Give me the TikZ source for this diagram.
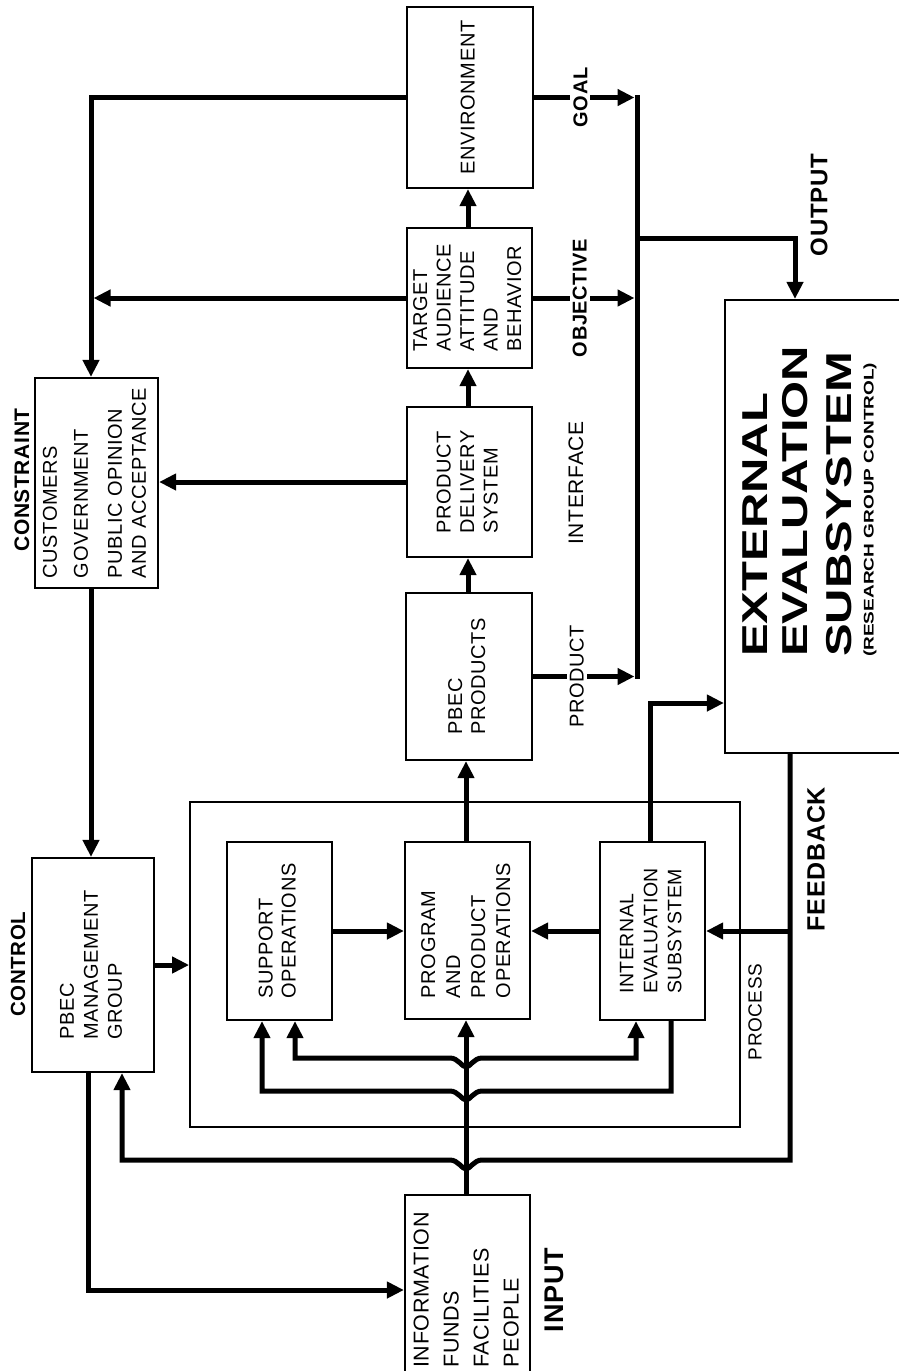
\documentclass[tikz,border=0pt]{standalone}
\usepackage{fontspec}
\usepackage{graphicx}
\setmainfont{Liberation Sans}[LetterSpace=3.0]
\newfontfamily\titlefont{Liberation Sans}[LetterSpace=0.0]
\usetikzlibrary{arrows.meta,calc}

% vertical (rotated) multi-line text: size, line skip, rows
\newcommand{\vtext}[3]{\rotatebox{90}{\fontsize{#1}{#2}\selectfont\renewcommand{\arraystretch}{1}\begin{tabular}{@{}l@{}}#3\end{tabular}}}

\tikzset{
  box/.style={draw, line width=2.2pt, inner sep=0pt, align=center},
  wire/.style={line width=5pt, -{Triangle[length=17pt,width=16pt]}},
  bus/.style={line width=5pt, line cap=rect},
  lab/.style={rotate=90, fill=white, inner sep=3pt},
  tag/.style={rotate=90, inner sep=1pt},
  boldf/.style={font=\fontsize{#1}{#1}\bfseries\selectfont},
  regf/.style={font=\fontsize{#1}{#1}\selectfont},
}

\begin{document}
\begin{tikzpicture}[x=1pt,y=-1pt]
\useasboundingbox (0,0) rectangle (898,1371);
\fill[white] (0,0) rectangle (898,1371);

% ---- boxes ----
\node[box, line width=1.8pt, minimum width=550pt, minimum height=325pt] (process) at (465,964.5) {};
\node[box, minimum width=126pt, minimum height=181pt] (env) at (470,97.5) {\vtext{20}{23.5}{ENVIRONMENT}};
\node[box, minimum width=125pt, minimum height=140pt] (target) at (469.5,298) {\vtext{20}{23.5}{TARGET\\AUDIENCE\\ATTITUDE\\AND\\BEHAVIOR}};
\node[box, minimum width=125pt, minimum height=150pt] (delivery) at (469.5,482) {\vtext{20}{23.5}{PRODUCT\\DELIVERY\\SYSTEM}};
\node[box, minimum width=126pt, minimum height=167pt] (products) at (469,676.5) {\vtext{20}{23}{PBEC\\PRODUCTS}};
\node[box, minimum width=125pt, minimum height=177pt] (program) at (467.5,930.5) {\vtext{20}{25}{PROGRAM\\AND\\PRODUCT\\OPERATIONS}};
\node[box, minimum width=105pt, minimum height=178pt] (support) at (279.5,931) {\vtext{20}{23}{SUPPORT\\OPERATIONS}};
\node[box, minimum width=105pt, minimum height=178pt] (internal) at (652.5,931) {\vtext{19.5}{24}{INTERNAL\\EVALUATION\\SUBSYSTEM}};
\node[box, minimum width=122pt, minimum height=214pt] (mgmt) at (93,965) {\vtext{20}{24}{PBEC\\MANAGEMENT\\GROUP}};
\node[box, minimum width=123pt, minimum height=210pt] (constraint) at (96.5,483) {\vtext{20}{24}{CUSTOMERS\\[7pt]GOVERNMENT\\[10pt]PUBLIC OPINION\\AND ACCEPTANCE}};
\node[box, minimum width=125pt, minimum height=190pt] (input) at (467.5,1290) {\vtext{21.5}{30}{INFORMATION\\FUNDS\\FACILITIES\\PEOPLE}};
\node[box, minimum width=235pt, minimum height=453pt] (ext) at (842.5,526.5) {};
\node[anchor=south, inner sep=0pt] (exttitle) at (812.5,657) {\rotatebox{90}{\scalebox{1.36}[1]{\titlefont\fontsize{36}{40}\bfseries\selectfont\begin{tabular}{@{}l@{}}EXTERNAL\\EVALUATION\\[4pt]SUBSYSTEM\\[-18pt]{\fontsize{14}{15}\selectfont(RESEARCH GROUP CONTROL)}\end{tabular}}}};

% ---- free labels ----
\node[tag, boldf=21] (lconstraint) at (22,480) {CONSTRAINT};
\node[tag, boldf=20.5] (lcontrol) at (18,964) {CONTROL};
\node[tag, regf=21] (linterface) at (576,483) {INTERFACE};
\node[tag, boldf=24] (loutput) at (819,205) {OUTPUT};
\node[tag, boldf=25] (lfeedback) at (816,859) {FEEDBACK};
\node[tag, regf=19] (lprocess) at (755,1012) {PROCESS};
\node[tag, boldf=27] (linput) at (554,1290) {INPUT};

% ---- routing points ----
\coordinate (lbus) at (91,0);
\coordinate (ml) at (88,0);
\coordinate (mx) at (122,0);
\coordinate (spine) at (466,0);
\coordinate (uspine) at (468,0);
\coordinate (rbus) at (637,0);
\coordinate (ox) at (795,0);
\coordinate (oj) at (637,238);
\coordinate (fb) at (790,0);
\coordinate (fbot) at (0,1160);
\coordinate (iv) at (650,0);
\coordinate (ein) at (0,703);
\coordinate (ua) at (636,0);
\coordinate (sa) at (295,0);
\coordinate (lb) at (671,0);
\coordinate (sb) at (262,0);
\coordinate (uline) at (0,1058);
\coordinate (lline) at (0,1091);

% ---- constraint / control loop ----
\draw[wire] (env.west) -- (env.west -| lbus) -- (lbus |- constraint.north);
\draw[wire, shorten >=2.5pt] (target.west) -- (target.west -| lbus);
\draw[wire] (delivery.west) -- (delivery.west -| constraint.east);
\draw[wire] (lbus |- constraint.south) -- (lbus |- mgmt.north);
\draw[wire] (mgmt.east) -- (mgmt.east -| process.west);
\draw[wire] (ml |- mgmt.south) -- (ml |- input.west) -- (input.west);

% ---- main chain ----
\draw[wire] (spine |- input.north) -- (spine |- program.south);
\draw[wire] (spine |- program.north) -- (spine |- products.south);
\draw[wire] (uspine |- products.north) -- (uspine |- delivery.south);
\draw[wire] (uspine |- delivery.north) -- (uspine |- target.south);
\draw[wire] (uspine |- target.north) -- (uspine |- env.south);

% ---- process internals ----
\draw[wire] (support.east) -- (support.east -| program.west);
\draw[wire] (internal.west) -- (internal.west -| program.east);
\draw[wire, {Triangle[length=17pt,width=16pt]}-{Triangle[length=17pt,width=16pt]}]
  (ua |- internal.south) -- (ua |- uline)
  -- ($(spine |- uline)+(16,0)$) .. controls +(-8,0) and +(4,0) .. ($(spine |- uline)+(0,9)$)
  .. controls +(-4,0) and +(8,0) .. ($(spine |- uline)+(-16,0)$)
  -- (sa |- uline) -- (sa |- support.south);
\draw[wire] (lb |- internal.south) -- (lb |- lline)
  -- ($(spine |- lline)+(16,0)$) .. controls +(-8,0) and +(4,0) .. ($(spine |- lline)+(0,9)$)
  .. controls +(-4,0) and +(8,0) .. ($(spine |- lline)+(-16,0)$)
  -- (sb |- lline) -- (sb |- support.south);

% ---- outputs ----
\draw[wire, shorten >=2.5pt] (env.east) -- node[lab, boldf=20, pos=0.45] (lgoal) {GOAL} (env.east -| rbus);
\draw[wire, shorten >=2.5pt] (target.east) -- node[lab, boldf=20, pos=0.45] (lobjective) {OBJECTIVE} (target.east -| rbus);
\draw[wire, shorten >=2.5pt] (products.east) -- node[lab, regf=20, pos=0.42] (lproduct) {PRODUCT} (products.east -| rbus);
\draw[bus] (rbus |- env.east) -- (rbus |- products.east);
\draw[wire] (oj) -- (oj -| ox) -- (ox |- ext.north);
\draw[wire] (iv |- internal.north) -- (iv |- ein) -- (ext.west |- ein);

% ---- feedback ----
\draw[wire] (fb |- ext.south) -- (fb |- fbot)
  -- ($(spine |- fbot)+(16,0)$) .. controls +(-8,0) and +(4,0) .. ($(spine |- fbot)+(0,9)$)
  .. controls +(-4,0) and +(8,0) .. ($(spine |- fbot)+(-16,0)$)
  -- (mx |- fbot) -- (mx |- mgmt.south);
\draw[wire] (fb |- internal.east) -- (internal.east);
\end{tikzpicture}
\end{document}
